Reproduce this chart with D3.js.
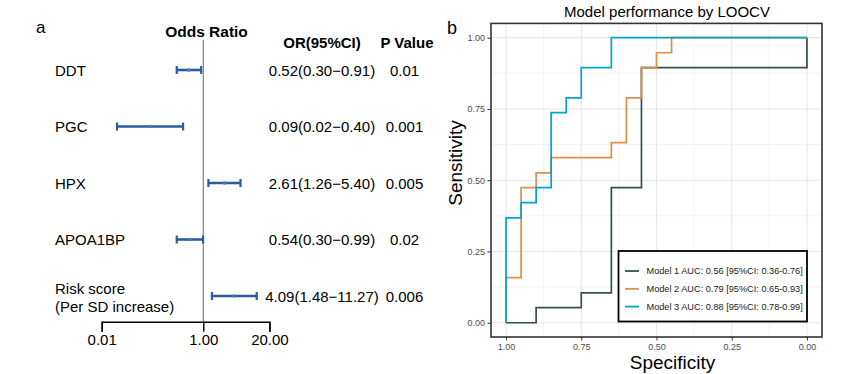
<!DOCTYPE html>
<html><head><meta charset="utf-8">
<script src="https://cdn.jsdelivr.net/npm/d3@7"></script>
<style>
html,body{margin:0;padding:0;background:#fff;}
svg{display:block;font-family:"Liberation Sans",Arial,sans-serif;}
</style></head>
<body>
<svg id="chart" width="841" height="374"></svg>
<script>
// ---------- Panel a: forest plot data ----------
const variables = ["DDT", "PGC", "HPX", "APOA1BP", "Risk score"];
const variableSub = ["", "", "", "", "(Per SD increase)"];
const oddsRatio = [0.52, 0.09, 2.61, 0.54, 4.09];
const ciLower = [0.30, 0.02, 1.26, 0.30, 1.48];
const ciUpper = [0.91, 0.40, 5.40, 0.99, 11.27];
const orLabels = ["0.52(0.30\u22120.91)", "0.09(0.02\u22120.40)", "2.61(1.26\u22125.40)", "0.54(0.30\u22120.99)", "4.09(1.48\u221211.27)"];
const pValues = ["0.01", "0.001", "0.005", "0.02", "0.006"];
const orTicks = [0.01, 1, 20];
const orTickLabels = ["0.01", "1.00", "20.00"];

// ---------- Panel b: ROC data (specificity, sensitivity vertices) ----------
const model1Spec = [1.00, 0.90, 0.90, 0.75, 0.75, 0.65, 0.65, 0.55, 0.55, 0.55, 0.00, 0.00];
const model1Sens = [0.000, 0.000, 0.053, 0.053, 0.105, 0.105, 0.474, 0.474, 0.789, 0.895, 0.895, 1.000];
const model2Spec = [1.00, 1.00, 0.95, 0.95, 0.90, 0.90, 0.85, 0.85, 0.65, 0.65, 0.60, 0.60, 0.55, 0.55, 0.50, 0.50, 0.45, 0.45, 0.00];
const model2Sens = [0.000, 0.158, 0.158, 0.474, 0.474, 0.526, 0.526, 0.579, 0.579, 0.632, 0.632, 0.789, 0.789, 0.895, 0.895, 0.947, 0.947, 1.000, 1.000];
const model3Spec = [1.00, 1.00, 0.95, 0.95, 0.90, 0.90, 0.85, 0.85, 0.80, 0.80, 0.75, 0.75, 0.65, 0.65, 0.00];
const model3Sens = [0.000, 0.368, 0.368, 0.421, 0.421, 0.474, 0.474, 0.737, 0.737, 0.789, 0.789, 0.895, 0.895, 1.000, 1.000];
const modelNames = ["Model 1 AUC: 0.56 [95%CI: 0.36-0.76]", "Model 2 AUC: 0.79 [95%CI: 0.65-0.93]", "Model 3 AUC: 0.88 [95%CI: 0.78-0.99]"];
const modelColors = ["#374E55", "#DF8F44", "#00A1D5"];
const rocTicks = [1.00, 0.75, 0.50, 0.25, 0.00];
const rocTickLabels = ["1.00", "0.75", "0.50", "0.25", "0.00"];
const rocMinor = [0.875, 0.625, 0.375, 0.125];

const svg = d3.select("#chart");

// ================= Panel a =================
const gA = svg.append("g");
const xOR = d3.scaleLog().domain([0.01, 20]).range([101.7, 269.4]);
const yRow = d3.scalePoint().domain(variables).range([70, 296]);

gA.append("text").attr("x", 36).attr("y", 33).attr("font-size", 17).text("a");
gA.append("text").attr("x", 206.5).attr("y", 36.5).attr("text-anchor", "middle")
  .attr("font-size", 15.5).attr("font-weight", "bold").text("Odds Ratio");
gA.append("text").attr("x", 322).attr("y", 48).attr("text-anchor", "middle")
  .attr("font-size", 15).attr("font-weight", "bold").text("OR(95%CI)");
gA.append("text").attr("x", 407).attr("y", 48).attr("text-anchor", "middle")
  .attr("font-size", 15).attr("font-weight", "bold").text("P Value");

// reference line at OR = 1
gA.append("line").attr("x1", xOR(1)).attr("x2", xOR(1)).attr("y1", 40).attr("y2", 321.7)
  .attr("stroke", "#808080").attr("stroke-width", 1.2);

// axis
const axA = gA.append("g").attr("transform", "translate(0,321.7)")
  .call(d3.axisBottom(xOR).tickValues(orTicks).tickFormat((d, i) => orTickLabels[i]).tickSizeOuter(0).tickSize(10).tickPadding(4));
axA.select(".domain").attr("stroke", "#000").attr("stroke-width", 1.4);
axA.selectAll(".tick line").attr("stroke", "#000").attr("stroke-width", 1.4);
axA.selectAll(".tick text").attr("font-size", 15).attr("fill", "#000")
  .attr("font-family", "Liberation Sans, Arial, sans-serif").attr("dy", "0.6em");

const barColor = "#2a5c9f";
variables.forEach((v, i) => {
  const y = yRow(v);
  if (variableSub[i]) {
    gA.append("text").attr("x", 55).attr("y", y - 2.5).attr("font-size", 15).text(v);
    gA.append("text").attr("x", 55).attr("y", y + 16).attr("font-size", 15).text(variableSub[i]);
  } else {
    gA.append("text").attr("x", 55).attr("y", y + 5.5).attr("font-size", 15).text(v);
  }
  gA.append("line").attr("x1", xOR(ciLower[i])).attr("x2", xOR(ciUpper[i])).attr("y1", y).attr("y2", y)
    .attr("stroke", barColor).attr("stroke-width", 2.6);
  [ciLower[i], ciUpper[i]].forEach(c => {
    gA.append("line").attr("x1", xOR(c)).attr("x2", xOR(c)).attr("y1", y - 4).attr("y2", y + 4)
      .attr("stroke", barColor).attr("stroke-width", 2.2);
  });
  gA.append("circle").attr("cx", xOR(oddsRatio[i])).attr("cy", y).attr("r", 1.8).attr("fill", "#4a78b5");
  gA.append("text").attr("x", 322).attr("y", y + 5.5).attr("text-anchor", "middle").attr("font-size", 15).text(orLabels[i]);
  gA.append("text").attr("x", 404.5).attr("y", y + 5.5).attr("text-anchor", "middle").attr("font-size", 15).text(pValues[i]);
});

// ================= Panel b =================
const gB = svg.append("g");
const xS = d3.scaleLinear().domain([1.05, -0.05]).range([491, 822]);
const yS = d3.scaleLinear().domain([-0.05, 1.05]).range([337, 23.4]);

// grid
rocMinor.forEach(v => {
  gB.append("line").attr("x1", xS(v)).attr("x2", xS(v)).attr("y1", yS(1.05)).attr("y2", yS(-0.05)).attr("stroke", "#ebebeb").attr("stroke-width", 0.6);
  gB.append("line").attr("x1", xS(1.05)).attr("x2", xS(-0.05)).attr("y1", yS(v)).attr("y2", yS(v)).attr("stroke", "#ebebeb").attr("stroke-width", 0.6);
});
rocTicks.forEach(v => {
  gB.append("line").attr("x1", xS(v)).attr("x2", xS(v)).attr("y1", yS(1.05)).attr("y2", yS(-0.05)).attr("stroke", "#e6e6e6").attr("stroke-width", 1.1);
  gB.append("line").attr("x1", xS(1.05)).attr("x2", xS(-0.05)).attr("y1", yS(v)).attr("y2", yS(v)).attr("stroke", "#e6e6e6").attr("stroke-width", 1.1);
});

// curves
const lineGen = d3.line().x(d => xS(d[0])).y(d => yS(d[1]));
const models = [
  d3.zip(model1Spec, model1Sens),
  d3.zip(model2Spec, model2Sens),
  d3.zip(model3Spec, model3Sens)
];
models.forEach((m, i) => {
  gB.append("path").attr("d", lineGen(m)).attr("fill", "none")
    .attr("stroke", modelColors[i]).attr("stroke-width", 1.7).attr("stroke-linejoin", "miter");
});

// panel border
gB.append("rect").attr("x", 491).attr("y", 23.4).attr("width", 331).attr("height", 313.6)
  .attr("fill", "none").attr("stroke", "#333333").attr("stroke-width", 1.6);

// axes
const axX = gB.append("g").attr("transform", "translate(0,337)")
  .call(d3.axisBottom(xS).tickValues(rocTicks).tickFormat((d, i) => rocTickLabels[i]).tickSize(3.5).tickPadding(3));
axX.select(".domain").remove();
axX.selectAll(".tick line").attr("stroke", "#333").attr("stroke-width", 1);
axX.selectAll(".tick text").attr("font-size", 9).attr("fill", "#4d4d4d").attr("font-family", "Liberation Sans, Arial, sans-serif");

const axY = gB.append("g").attr("transform", "translate(491,0)")
  .call(d3.axisLeft(yS).tickValues(rocTicks).tickFormat((d, i) => rocTickLabels[i]).tickSize(3.5).tickPadding(2.5));
axY.select(".domain").remove();
axY.selectAll(".tick line").attr("stroke", "#333").attr("stroke-width", 1);
axY.selectAll(".tick text").attr("font-size", 9).attr("fill", "#4d4d4d").attr("font-family", "Liberation Sans, Arial, sans-serif");

// titles
gB.append("text").attr("x", 667).attr("y", 16.5).attr("text-anchor", "middle").attr("font-size", 15).text("Model performance by LOOCV");
gB.append("text").attr("x", 447).attr("y", 34).attr("font-size", 18).text("b");
gB.append("text").attr("x", 672.5).attr("y", 369).attr("text-anchor", "middle").attr("font-size", 19).text("Specificity");
gB.append("text").attr("transform", "translate(462,163) rotate(-90)").attr("text-anchor", "middle").attr("font-size", 19).text("Sensitivity");

// legend
const lg = gB.append("g");
lg.append("rect").attr("x", 618.5).attr("y", 251).attr("width", 188.5).attr("height", 70.5)
  .attr("fill", "#fff").attr("stroke", "#000").attr("stroke-width", 1.8);
modelNames.forEach((n, i) => {
  const y = 271 + i * 17.8;
  lg.append("line").attr("x1", 625).attr("x2", 639).attr("y1", y).attr("y2", y)
    .attr("stroke", modelColors[i]).attr("stroke-width", 1.8);
  lg.append("text").attr("x", 646.5).attr("y", y + 3.3).attr("font-size", 9.2).attr("fill", "#1a1a1a").text(n);
});
</script>
</body></html>
